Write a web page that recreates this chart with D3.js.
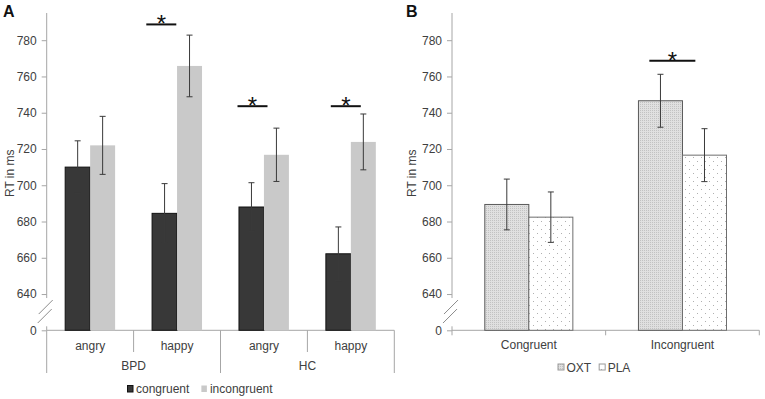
<!DOCTYPE html>
<html><head><meta charset="utf-8">
<script src="https://cdn.jsdelivr.net/npm/d3@7"></script>
<style>
html,body{margin:0;padding:0;background:#fff;}
text{font-family:Arial,"Liberation Sans",sans-serif;}
</style></head>
<body><svg id="chart" width="765" height="399"></svg>
<script>
// ---------- DATA ----------
const groupsA = ["BPD","BPD","HC","HC"];
const emotionsA = ["angry","happy","angry","happy"];
const seriesA = ["congruent","incongruent"];
const congruentMeans = [710, 684.5, 688, 662.2];
const congruentErr   = [14.5, 16.4, 13.4, 14.8];
const incongruentMeans = [722, 765.8, 716.8, 723.9];
const incongruentErr   = [16, 17, 14.7, 15.4];
const sigA = [ {cat:1, value:788.7}, {cat:2, value:743.6}, {cat:3, value:743.6} ];

const categoriesB = ["Congruent","Incongruent"];
const seriesB = ["OXT","PLA"];
const oxtMeans = [689.4, 746.6];
const oxtErr   = [14, 14.6];
const plaMeans = [682.4, 716.6];
const plaErr   = [13.9, 14.6];
const sigB = [ {cat:1, value:768.7} ];

const yTickValues = [620,640,660,680,700,720,740,760,780];
const yTickLabels = ["0","640","660","680","700","720","740","760","780"];
const yTitle = "RT in ms";

// ---------- LAYOUT ----------
const svg = d3.select("#chart");
const textColor = "#404040";
const axisColor = "#a6a6a6";
const sigOffA = [12.7, 17, 23.4];   // px from category start
const sigWA = 30;
const sigOffB = [43.7];
const sigWB = 46;

const defs = svg.append("defs");
const pO = defs.append("pattern").attr("id","pOXT").attr("patternUnits","userSpaceOnUse").attr("width",2).attr("height",2);
pO.append("rect").attr("width",2).attr("height",2).attr("fill","#e0e0e0");
pO.append("rect").attr("width",1).attr("height",1).attr("fill","#c2c2c2");
const pP = defs.append("pattern").attr("id","pPLA").attr("patternUnits","userSpaceOnUse").attr("width",8).attr("height",8);
pP.append("rect").attr("width",8).attr("height",8).attr("fill","#ffffff");
pP.append("rect").attr("x",1).attr("y",1).attr("width",1).attr("height",1).attr("fill","#b0b0b0");
pP.append("rect").attr("x",5).attr("y",5).attr("width",1).attr("height",1).attr("fill","#b0b0b0");

function makeY(){ return d3.scaleLinear().domain([620,795]).range([330.3,13]); }

function drawYAxis(g, y, x0, titleX){
  const ax = d3.axisLeft(y).tickValues(yTickValues).tickSize(5).tickPadding(5)
     .tickFormat((d,i)=>yTickLabels[i]);
  const a = g.append("g").attr("transform",`translate(${x0},0)`).call(ax);
  a.select(".domain").remove();
  a.selectAll(".tick line").attr("stroke",axisColor);
  a.selectAll(".tick text").attr("fill",textColor).attr("font-size",12);
  const yb1 = y(640)+4, yb2 = y(620)-4;
  g.append("line").attr("x1",x0).attr("x2",x0).attr("y1",y(795)).attr("y2",yb1).attr("stroke",axisColor);
  g.append("line").attr("x1",x0).attr("x2",x0).attr("y1",yb2).attr("y2",y(620)).attr("stroke",axisColor);
  [0,6].forEach(o=>{
    g.append("line").attr("x1",x0-7).attr("y1",y(640)+20+o*0.5).attr("x2",x0+7).attr("y2",y(640)+6+o*0.5)
     .attr("stroke","#8c8c8c").attr("stroke-width",1)
     .attr("transform",`translate(${o===0?-1:-2},${o})`);
  });
  g.append("text").attr("transform",`translate(${titleX},${y(700)-12}) rotate(-90)`)
    .attr("text-anchor","middle").attr("font-size",12).attr("fill",textColor).text(yTitle);
}

function errBar(g, x, m, e, y){
  g.append("line").attr("x1",x).attr("x2",x).attr("y1",y(m+e)).attr("y2",y(m-e)).attr("stroke","#3a3a3a");
  [m+e,m-e].forEach(v=>g.append("line").attr("x1",x-3).attr("x2",x+3).attr("y1",y(v)).attr("y2",y(v)).attr("stroke","#3a3a3a"));
}

function sig(g, x1, x2, yy){
  g.append("line").attr("x1",x1).attr("x2",x2).attr("y1",yy).attr("y2",yy).attr("stroke","#111").attr("stroke-width",2);
  g.append("text").attr("x",(x1+x2)/2).attr("y",yy+8).attr("text-anchor","middle")
   .attr("font-size",24).attr("fill","#111").text("*");
}

// ---------- PANEL A ----------
{
  const g = svg.append("g");
  const y = makeY();
  const idx = d3.range(emotionsA.length);
  const x0 = d3.scaleBand().domain(idx).range([46.7,394.3]);
  const x1 = d3.scaleBand().domain(seriesA).range([0,x0.bandwidth()]).paddingInner(0).paddingOuter(0.74);
  const meansBy = {congruent:congruentMeans, incongruent:incongruentMeans};
  const errBy = {congruent:congruentErr, incongruent:incongruentErr};
  const fillBy = {congruent:"#383838", incongruent:"#c9c9c9"};
  g.append("line").attr("x1",46.7).attr("x2",394.3).attr("y1",y(620)).attr("y2",y(620)).attr("stroke",axisColor);
  idx.concat([idx.length]).forEach(i=>{
    const xx = i<idx.length ? x0(i) : x0.range()[1];
    const long = (i%2===0);
    g.append("line").attr("x1",xx).attr("x2",xx).attr("y1",y(620)).attr("y2",long?373:352).attr("stroke",axisColor);
  });
  seriesA.forEach(s=>{
    idx.forEach(i=>{
      g.append("rect").attr("x",x0(i)+x1(s)).attr("width",x1.bandwidth())
        .attr("y",y(meansBy[s][i])).attr("height",y(620)-y(meansBy[s][i]))
        .attr("fill",fillBy[s]).attr("stroke",s==="congruent"?"#111":"none").attr("stroke-width",1);
    });
  });
  seriesA.forEach(s=>idx.forEach(i=>errBar(g, x0(i)+x1(s)+x1.bandwidth()/2, meansBy[s][i], errBy[s][i], y)));
  idx.forEach(i=>g.append("text").attr("x",x0(i)+x0.bandwidth()/2).attr("y",350).attr("text-anchor","middle")
     .attr("font-size",12).attr("fill",textColor).text(emotionsA[i]));
  const grp = Array.from(new Set(groupsA));
  grp.forEach(gr=>{
    const ii = idx.filter(i=>groupsA[i]===gr);
    const cx = (x0(ii[0]) + x0(ii[ii.length-1]) + x0.bandwidth())/2;
    g.append("text").attr("x",cx).attr("y",370).attr("text-anchor","middle").attr("font-size",12).attr("fill",textColor).text(gr);
  });
  sigA.forEach((s,k)=>sig(g, x0(s.cat)+sigOffA[k], x0(s.cat)+sigOffA[k]+sigWA, y(s.value)));
  drawYAxis(g, y, 46.7, 14);
  g.append("text").attr("x",3).attr("y",17).attr("font-size",16).attr("font-weight","bold").attr("fill","#111").text("A");
  const lg = g.append("g");
  let lx = 127.5;
  seriesA.forEach(s=>{
    lg.append("rect").attr("x",lx).attr("y",385.5).attr("width",5.5).attr("height",6.5).attr("fill",fillBy[s])
      .attr("stroke",s==="congruent"?"#111":"none");
    const t = lg.append("text").attr("x",lx+8.5).attr("y",393).attr("font-size",12).attr("fill",textColor).text(s);
    lx += 8.5 + t.node().getComputedTextLength() + 12;
  });
}

// ---------- PANEL B ----------
{
  const g = svg.append("g");
  const y = makeY();
  const idx = d3.range(categoriesB.length);
  const x0 = d3.scaleBand().domain(idx).range([452,759.3]);
  const x1 = d3.scaleBand().domain(seriesB).range([0,x0.bandwidth()]).paddingInner(0).paddingOuter(0.745);
  const meansBy = {OXT:oxtMeans, PLA:plaMeans};
  const errBy = {OXT:oxtErr, PLA:plaErr};
  const fillBy = {OXT:"url(#pOXT)", PLA:"url(#pPLA)"};
  const strokeBy = {OXT:"#5a5a5a", PLA:"#6e6e6e"};
  g.append("line").attr("x1",452).attr("x2",759.3).attr("y1",y(620)).attr("y2",y(620)).attr("stroke",axisColor);
  idx.concat([idx.length]).forEach(i=>{
    const xx = i<idx.length ? x0(i) : x0.range()[1];
    g.append("line").attr("x1",xx).attr("x2",xx).attr("y1",y(620)).attr("y2",y(620)+5).attr("stroke",axisColor);
  });
  seriesB.forEach(s=>idx.forEach(i=>{
    g.append("rect").attr("x",x0(i)+x1(s)).attr("width",x1.bandwidth())
      .attr("y",y(meansBy[s][i])).attr("height",y(620)-y(meansBy[s][i]))
      .attr("fill",fillBy[s]).attr("stroke",strokeBy[s]).attr("stroke-width",1);
  }));
  seriesB.forEach(s=>idx.forEach(i=>errBar(g, x0(i)+x1(s)+x1.bandwidth()/2, meansBy[s][i], errBy[s][i], y)));
  idx.forEach(i=>g.append("text").attr("x",x0(i)+x0.bandwidth()/2).attr("y",348.5).attr("text-anchor","middle")
     .attr("font-size",12).attr("fill",textColor).text(categoriesB[i]));
  sigB.forEach((s,k)=>sig(g, x0(s.cat)+sigOffB[k], x0(s.cat)+sigOffB[k]+sigWB, y(s.value)));
  drawYAxis(g, y, 452, 416);
  g.append("text").attr("x",406).attr("y",17).attr("font-size",16).attr("font-weight","bold").attr("fill","#111").text("B");
  const lg = g.append("g");
  let lx = 558;
  seriesB.forEach(s=>{
    lg.append("rect").attr("x",lx).attr("y",364).attr("width",6).attr("height",6).attr("fill",fillBy[s]).attr("stroke","#9a9a9a");
    const t = lg.append("text").attr("x",lx+8.5).attr("y",371.5).attr("font-size",12).attr("fill",textColor).text(s);
    lx += 8.5 + t.node().getComputedTextLength() + 8;
  });
}
</script></body></html>
